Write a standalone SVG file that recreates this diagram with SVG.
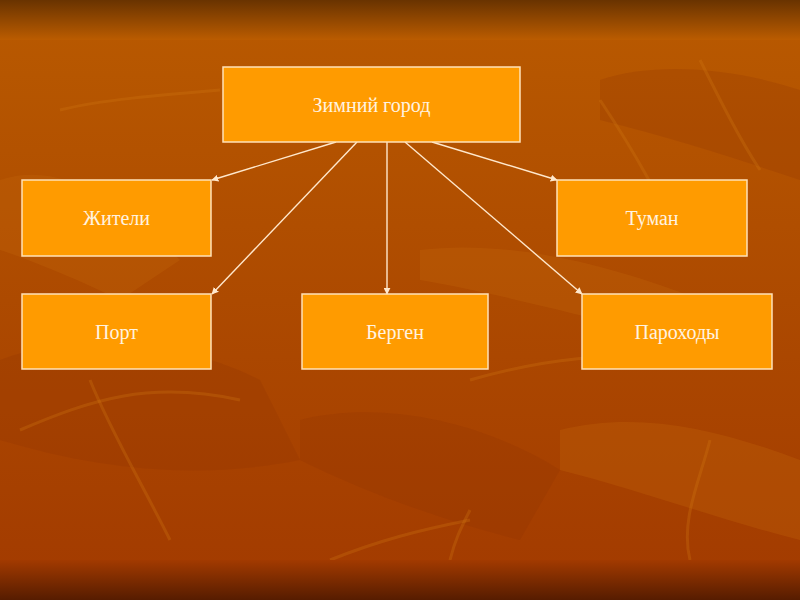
<svg xmlns="http://www.w3.org/2000/svg" width="800" height="600" viewBox="0 0 800 600">
<defs>
<linearGradient id="bg" x1="0" y1="0" x2="0" y2="1">
<stop offset="0" stop-color="#b95a00"/>
<stop offset="0.5" stop-color="#ad4a00"/>
<stop offset="1" stop-color="#a23a00"/>
</linearGradient>
<linearGradient id="topband" x1="0" y1="0" x2="0" y2="1">
<stop offset="0" stop-color="#693300"/>
<stop offset="1" stop-color="#bb5c00"/>
</linearGradient>
<linearGradient id="botband" x1="0" y1="0" x2="0" y2="1">
<stop offset="0" stop-color="#a23a00"/>
<stop offset="1" stop-color="#561c00"/>
</linearGradient>
<marker id="arr" viewBox="0 0 10 10" refX="9" refY="5" markerWidth="5" markerHeight="5" orient="auto">
<path d="M0,0 L10,5 L0,10 z" fill="#ffe8cc"/>
</marker>
<style>
.box{fill:#ff9b00;stroke:#ffe2b8;stroke-width:1.5}
.lbl{font-family:"Liberation Serif","DejaVu Serif",serif;font-size:20px;fill:#fff3e0;text-anchor:middle;dominant-baseline:central}
.conn{stroke:#ffe8cc;stroke-width:1.4;fill:none;marker-end:url(#arr)}
.leaf{fill:#c4660a;opacity:0.3}
.leafd{fill:#8f3000;opacity:0.22}
.vein{stroke:#d07810;stroke-width:3;fill:none;opacity:0.3}
</style>
</defs>
<rect x="0" y="0" width="800" height="600" fill="url(#bg)"/>
<g id="texture">
<path class="leaf" d="M0,180 C60,160 120,200 180,260 L120,300 C80,280 30,260 0,250 Z"/>
<path class="leafd" d="M0,360 C80,330 180,340 260,380 L300,460 C200,480 100,470 0,440 Z"/>
<path class="leaf" d="M420,250 C500,240 600,260 700,300 L640,330 C560,310 480,290 420,280 Z"/>
<path class="leafd" d="M600,80 C660,60 740,70 800,90 L800,180 C740,160 680,140 600,120 Z"/>
<path class="leafd" d="M300,420 C380,400 480,420 560,470 L520,540 C440,520 360,490 300,460 Z"/>
<path class="leaf" d="M560,430 C640,410 720,430 800,460 L800,540 C720,520 640,490 560,470 Z"/>
<path class="vein" d="M20,430 C90,400 150,380 240,400"/>
<path class="vein" d="M90,380 C110,430 140,480 170,540"/>
<path class="vein" d="M330,560 C380,540 420,530 470,520"/>
<path class="vein" d="M450,560 C455,540 460,530 470,510"/>
<path class="vein" d="M690,560 C680,520 700,480 710,440"/>
<path class="vein" d="M700,60 C720,100 740,140 760,170"/>
<path class="vein" d="M600,100 C640,160 660,200 680,240"/>
<path class="vein" d="M470,380 C540,360 610,350 700,360"/>
<path class="vein" d="M60,110 C100,100 160,95 220,90"/>
</g>
<rect x="0" y="0" width="800" height="40" fill="url(#topband)"/>
<rect x="0" y="560" width="800" height="40" fill="url(#botband)"/>
<g id="connectors">
<line class="conn" x1="336" y1="142" x2="212" y2="180"/>
<line class="conn" x1="357" y1="142" x2="212" y2="294"/>
<line class="conn" x1="387" y1="142" x2="387" y2="294"/>
<line class="conn" x1="405" y1="142" x2="582" y2="294"/>
<line class="conn" x1="432" y1="142" x2="557" y2="180"/>
</g>
<g id="n-zimniy">
<rect class="box" x="223" y="67" width="297" height="75"/>
<text class="lbl" x="371.5" y="104.5">Зимний город</text>
</g>
<g id="n-zhiteli">
<rect class="box" x="22" y="180" width="189" height="76"/>
<text class="lbl" x="116.5" y="218">Жители</text>
</g>
<g id="n-tuman">
<rect class="box" x="557" y="180" width="190" height="76"/>
<text class="lbl" x="652" y="218">Туман</text>
</g>
<g id="n-port">
<rect class="box" x="22" y="294" width="189" height="75"/>
<text class="lbl" x="116.5" y="331.5">Порт</text>
</g>
<g id="n-bergen">
<rect class="box" x="302" y="294" width="186" height="75"/>
<text class="lbl" x="395" y="331.5">Берген</text>
</g>
<g id="n-parohody">
<rect class="box" x="582" y="294" width="190" height="75"/>
<text class="lbl" x="677" y="331.5">Пароходы</text>
</g>
</svg>
